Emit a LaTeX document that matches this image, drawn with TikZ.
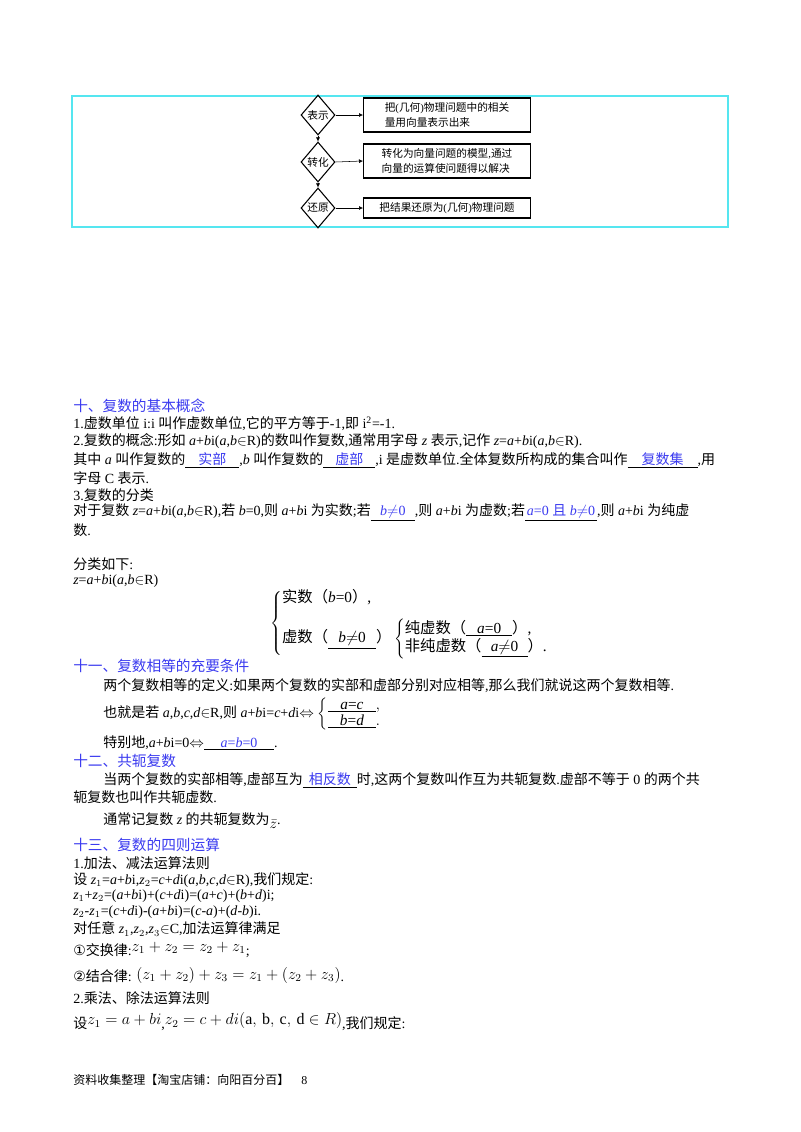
\documentclass[tikz,border=0pt]{standalone}
\usepackage{fontspec}
\usetikzlibrary{shapes.geometric,arrows.meta}
\setmainfont{Liberation Serif}
\newfontfamily\cjk{Noto Sans CJK SC}
\newfontfamily\dejavu{DejaVu Sans}
\XeTeXinterchartokenstate=1
\newXeTeXintercharclass\cjkclass
\count255="4E00
\loop \XeTeXcharclass\count255=\cjkclass \advance\count255 by 1 \ifnum\count255<"A000 \repeat
\count255="3000
\loop \XeTeXcharclass\count255=\cjkclass \advance\count255 by 1 \ifnum\count255<"3040 \repeat
\count255="FF00
\loop \XeTeXcharclass\count255=\cjkclass \advance\count255 by 1 \ifnum\count255<"FFF0 \repeat
\XeTeXinterchartoks 0 \cjkclass = {\begingroup\cjk}
\XeTeXinterchartoks 4095 \cjkclass = {\begingroup\cjk}
\XeTeXinterchartoks \cjkclass 0 = {\endgroup}
\XeTeXinterchartoks \cjkclass 4095 = {\endgroup}
\definecolor{hblue}{HTML}{3B3BF0}
\definecolor{frame}{HTML}{55E6F0}
\newdimen\pxu \pxu=0.75pt
\newcommand{\I}[1]{\textit{#1}}
\newcommand{\blank}[2]{\underline{\makebox[#1\pxu][c]{\color{hblue}#2}}}
\newcommand{\blankk}[2]{\underline{\makebox[#1\pxu][c]{#2}}}
\tikzset{
 txt/.style={anchor=west,inner sep=0pt,font=\fontsize{10.5}{12}\selectfont},
 head/.style={txt,text=hblue,font=\fontsize{11}{12}\selectfont},
 dia/.style={draw,thick,diamond,aspect=0.85,minimum width=34\pxu,minimum height=40\pxu,inner sep=0pt,font=\fontsize{8}{9}\selectfont},
 rbox/.style={draw,thick,anchor=west,inner sep=2pt,align=left,font=\fontsize{8}{11}\selectfont},
 arr/.style={-{Latex[length=3pt,width=3pt]},thin}
}
\begin{document}
\begin{tikzpicture}[x=0.75pt,y=-0.75pt]
\useasboundingbox (0,0) rectangle (800,1132);
\fill[white] (0,0) rectangle (800,1132);
% flowchart
\draw[frame,thick] (72,96) rectangle (728,227);
\node[dia] (d1) at (318,115) {表示};
\node[dia] (d2) at (318,162) {转化};
\node[dia] (d3) at (318,208) {还原};
\node[rbox,minimum width=167\pxu,minimum height=34\pxu] (r1) at (363,115) {把(几何)物理问题中的相关\\量用向量表示出来};
\node[rbox,minimum width=167\pxu,minimum height=34\pxu] (r2) at (363,161) {转化为向量问题的模型,通过\\向量的运算使问题得以解决};
\node[rbox,minimum width=167\pxu,minimum height=20\pxu] (r3) at (363,208) {把结果还原为(几何)物理问题};
\draw[arr] (d1.east) -- (r1.west);
\draw[arr] (d2.east) -- (r2.west);
\draw[arr] (d3.east) -- (r3.west);
\draw[arr] (d1.south) -- (d2.north);
\draw[arr] (d2.south) -- (d3.north);
% section 10
\node[head] (h10) at (73,406) {十、复数的基本概念};
\node[txt] (l1) at (73,424) {1.虚数单位 i:i 叫作虚数单位,它的平方等于-1,即 i\textsuperscript{2}=-1.};
\node[txt] (l2) at (73,441) {2.复数的概念:形如 \I{a}+\I{b}i(\I{a},\I{b}$\in$R)的数叫作复数,通常用字母 \I{z} 表示,记作 \I{z}=\I{a}+\I{b}i(\I{a},\I{b}$\in$R).};
\node[txt] (l3) at (73,460) {其中 \I{a} 叫作复数的\blank{54}{实部},\I{b} 叫作复数的\blank{52}{虚部},i 是虚数单位.全体复数所构成的集合叫作\blank{70}{复数集},用};
\node[txt] (l4) at (73,478) {字母 C 表示.};
\node[txt] (l5) at (73,495) {3.复数的分类};
\node[txt] (l6) at (73,512) {对于复数 \I{z}=\I{a}+\I{b}i(\I{a},\I{b}$\in$R),若 \I{b}=0,则 \I{a}+\I{b}i 为实数;若\blank{44}{\I{b}$\neq$0},则 \I{a}+\I{b}i 为虚数;若\blank{72}{\I{a}=0 且 \I{b}$\neq$0},则 \I{a}+\I{b}i 为纯虚};
\node[txt] (l7) at (73,530) {数.};
\node[txt] (l8) at (73,564) {分类如下:};
\node[txt] (l9) at (73,581) {\I{z}=\I{a}+\I{b}i(\I{a},\I{b}$\in$R)};
\node[txt,font=\fontsize{11.5}{13}\selectfont] (cls) at (270,623) {$\left\{\begin{array}{@{}l@{}}\mbox{实数（\I{b}=0）,}\\[8pt]
 \mbox{虚数（\blankk{48}{\I{b}$\neq$0}）}\left\{\begin{array}{@{}l@{}}\mbox{纯虚数（\blankk{46}{\I{a}=0}）,}\\ \mbox{非纯虚数（\blankk{46}{\I{a}$\neq$0}）.}\end{array}\right.\\[-2pt]\end{array}\right.$};
% section 11
\node[head] (h11) at (73,666) {十一、复数相等的充要条件};
\node[txt] (m1) at (103,686) {两个复数相等的定义:如果两个复数的实部和虚部分别对应相等,那么我们就说这两个复数相等.};
\node[txt] (m2) at (103,714) {也就是若 \I{a},\I{b},\I{c},\I{d}$\in$R,则 \I{a}+\I{b}i=\I{c}+\I{d}i$\Leftrightarrow\left\{\begin{array}{@{}l@{}}\blankk{48}{\fontsize{11.5}{13}\selectfont\I{a}=\I{c}},\\ \blankk{48}{\fontsize{11.5}{13}\selectfont\I{b}=\I{d}}.\end{array}\right.$};
\node[txt] (m3) at (103,743) {特别地,\I{a}+\I{b}i=0$\Leftrightarrow$\blank{70}{\I{a}=\I{b}=0}.};
% section 12
\node[head] (h12) at (73,761) {十二、共轭复数};
\node[txt] (n1) at (103,780) {当两个复数的实部相等,虚部互为\blank{54}{相反数}时,这两个复数叫作互为共轭复数.虚部不等于 0 的两个共};
\node[txt] (n2) at (73,797) {轭复数也叫作共轭虚数.};
\node[txt] (n3) at (103,821) {通常记复数 \I{z} 的共轭复数为\raisebox{-3pt}{$\bar{z}$}.};
% section 13
\node[head] (h13) at (73,845) {十三、复数的四则运算};
\node[txt] (p1) at (73,863) {1.加法、减法运算法则};
\node[txt] (p2) at (73,880) {设 \I{z}$_1$=\I{a}+\I{b}i,\I{z}$_2$=\I{c}+\I{d}i(\I{a},\I{b},\I{c},\I{d}$\in$R),我们规定:};
\node[txt] (p3) at (73,896) {\I{z}$_1$+\I{z}$_2$=(\I{a}+\I{b}i)+(\I{c}+\I{d}i)=(\I{a}+\I{c})+(\I{b}+\I{d})i;};
\node[txt] (p4) at (73,912) {\I{z}$_2$-\I{z}$_1$=(\I{c}+\I{d}i)-(\I{a}+\I{b}i)=(\I{c}-\I{a})+(\I{d}-\I{b})i.};
\node[txt] (p5) at (73,929) {对任意 \I{z}$_1$,\I{z}$_2$,\I{z}$_3$$\in$C,加法运算律满足};
\node[txt] (p6) at (73,950) {{\dejavu\itshape ①}交换律:\raisebox{3pt}{\fontsize{12}{14}\selectfont$z_1+z_2=z_2+z_1$};};
\node[txt] (p7) at (73,975) {{\dejavu\itshape ②}结合律: \raisebox{2pt}{\fontsize{12}{14}\selectfont$(z_1+z_2)+z_3=z_1+(z_2+z_3)$}.};
\node[txt] (p8) at (73,998) {2.乘法、除法运算法则};
\node[txt] (p9) at (73,1022) {设\raisebox{3pt}{\fontsize{12}{14}\selectfont$z_1=a+bi$},\raisebox{3pt}{\fontsize{12}{14}\selectfont$z_2=c+di(\mathrm{a,\,b,\,c,\,d}\in R)$},我们规定:};
\node[txt,font=\fontsize{9}{11}\selectfont] (ft) at (73,1080) {资料收集整理【淘宝店铺：向阳百分百】\quad 8};
\end{tikzpicture}
\end{document}
